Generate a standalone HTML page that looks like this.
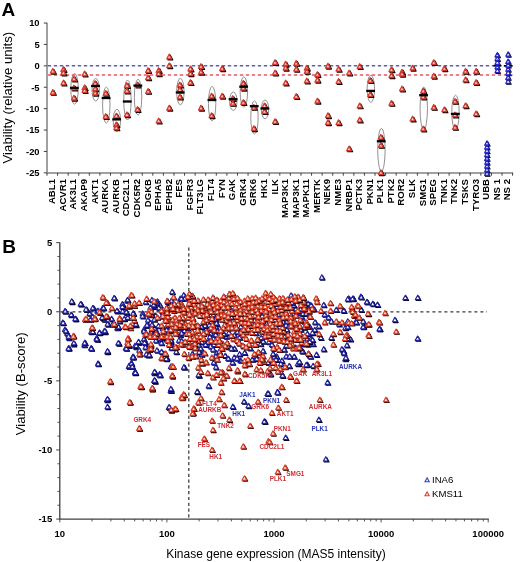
<!DOCTYPE html><html><head><meta charset="utf-8"><style>html,body{margin:0;padding:0;background:#fff;width:520px;height:562px;overflow:hidden}</style></head><body><svg width="520" height="562" viewBox="0 0 520 562" style="display:block;will-change:transform;font-family:'Liberation Sans',sans-serif">
<rect width="520" height="562" fill="#fff"/>
<defs>
<g id="ra"><path d="M1.1,-1.6 l2.4,4.6 h-4.8z" fill="#100000" stroke="#100000" stroke-width="1.3" stroke-linejoin="round"/><path d="M0,-2.6 l2.4,4.6 h-4.8z" fill="#fcd0bc" stroke="#d43a30" stroke-width="1.35" stroke-linejoin="round"/></g>
<g id="r"><path d="M0.9,-1.3 l2.4,4.4 h-4.8z" fill="#3a0000" stroke="#3a0000" stroke-width="1.1" stroke-linejoin="round"/><path d="M0,-2.2 l2.4,4.4 h-4.8z" fill="#ffe2d0" stroke="#da4028" stroke-width="1.15" stroke-linejoin="round"/></g>
<g id="b"><path d="M0.9,-1.3 l2.4,4.4 h-4.8z" fill="#000030" stroke="#000030" stroke-width="1.1" stroke-linejoin="round"/><path d="M0,-2.2 l2.4,4.4 h-4.8z" fill="#fff" stroke="#22229c" stroke-width="1.15" stroke-linejoin="round"/></g>
<g id="ba"><path d="M0.8,-1.4 l2.3,4.3 h-4.6z" fill="#000010" stroke="#000010" stroke-width="1.1" stroke-linejoin="round"/><path d="M0,-2.3 l2.3,4.3 h-4.6z" fill="#fff" stroke="#2626c4" stroke-width="1.25" stroke-linejoin="round"/></g>
</defs>
<text x="1.5" y="15.8" style="font-weight:bold;font-size:19px">A</text>
<text transform="translate(12.4,97.6) rotate(-90)" text-anchor="middle" style="font-size:13.2px">Viability (relative units)</text>
<line x1="47.0" y1="22.74999999999999" x2="47.0" y2="172.9" stroke="#808080" stroke-width="1.5"/>
<line x1="43.8" y1="23.05" x2="47.0" y2="23.05" stroke="#404040" stroke-width="1"/>
<text x="39.6" y="26.35" text-anchor="end" style="font-weight:bold;font-size:9.4px">10</text>
<line x1="43.8" y1="44.45" x2="47.0" y2="44.45" stroke="#404040" stroke-width="1"/>
<text x="39.6" y="47.75" text-anchor="end" style="font-weight:bold;font-size:9.4px">5</text>
<line x1="43.8" y1="65.85" x2="47.0" y2="65.85" stroke="#404040" stroke-width="1"/>
<text x="39.6" y="69.15" text-anchor="end" style="font-weight:bold;font-size:9.4px">0</text>
<line x1="43.8" y1="87.25" x2="47.0" y2="87.25" stroke="#404040" stroke-width="1"/>
<text x="39.6" y="90.55" text-anchor="end" style="font-weight:bold;font-size:9.4px">-5</text>
<line x1="43.8" y1="108.65" x2="47.0" y2="108.65" stroke="#404040" stroke-width="1"/>
<text x="39.6" y="111.95" text-anchor="end" style="font-weight:bold;font-size:9.4px">-10</text>
<line x1="43.8" y1="130.05" x2="47.0" y2="130.05" stroke="#404040" stroke-width="1"/>
<text x="39.6" y="133.35" text-anchor="end" style="font-weight:bold;font-size:9.4px">-15</text>
<line x1="43.8" y1="151.45" x2="47.0" y2="151.45" stroke="#404040" stroke-width="1"/>
<text x="39.6" y="154.75" text-anchor="end" style="font-weight:bold;font-size:9.4px">-20</text>
<line x1="43.8" y1="172.85" x2="47.0" y2="172.85" stroke="#404040" stroke-width="1"/>
<text x="39.6" y="176.15" text-anchor="end" style="font-weight:bold;font-size:9.4px">-25</text>
<line x1="46.3" y1="172.9" x2="513.1" y2="172.9" stroke="#808080" stroke-width="1.5"/>
<line x1="47.00" y1="172.9" x2="47.00" y2="175.70000000000002" stroke="#404040" stroke-width="1"/>
<line x1="57.58" y1="172.9" x2="57.58" y2="175.70000000000002" stroke="#404040" stroke-width="1"/>
<line x1="68.16" y1="172.9" x2="68.16" y2="175.70000000000002" stroke="#404040" stroke-width="1"/>
<line x1="78.75" y1="172.9" x2="78.75" y2="175.70000000000002" stroke="#404040" stroke-width="1"/>
<line x1="89.33" y1="172.9" x2="89.33" y2="175.70000000000002" stroke="#404040" stroke-width="1"/>
<line x1="99.91" y1="172.9" x2="99.91" y2="175.70000000000002" stroke="#404040" stroke-width="1"/>
<line x1="110.49" y1="172.9" x2="110.49" y2="175.70000000000002" stroke="#404040" stroke-width="1"/>
<line x1="121.07" y1="172.9" x2="121.07" y2="175.70000000000002" stroke="#404040" stroke-width="1"/>
<line x1="131.65" y1="172.9" x2="131.65" y2="175.70000000000002" stroke="#404040" stroke-width="1"/>
<line x1="142.24" y1="172.9" x2="142.24" y2="175.70000000000002" stroke="#404040" stroke-width="1"/>
<line x1="152.82" y1="172.9" x2="152.82" y2="175.70000000000002" stroke="#404040" stroke-width="1"/>
<line x1="163.40" y1="172.9" x2="163.40" y2="175.70000000000002" stroke="#404040" stroke-width="1"/>
<line x1="173.98" y1="172.9" x2="173.98" y2="175.70000000000002" stroke="#404040" stroke-width="1"/>
<line x1="184.56" y1="172.9" x2="184.56" y2="175.70000000000002" stroke="#404040" stroke-width="1"/>
<line x1="195.15" y1="172.9" x2="195.15" y2="175.70000000000002" stroke="#404040" stroke-width="1"/>
<line x1="205.73" y1="172.9" x2="205.73" y2="175.70000000000002" stroke="#404040" stroke-width="1"/>
<line x1="216.31" y1="172.9" x2="216.31" y2="175.70000000000002" stroke="#404040" stroke-width="1"/>
<line x1="226.89" y1="172.9" x2="226.89" y2="175.70000000000002" stroke="#404040" stroke-width="1"/>
<line x1="237.47" y1="172.9" x2="237.47" y2="175.70000000000002" stroke="#404040" stroke-width="1"/>
<line x1="248.05" y1="172.9" x2="248.05" y2="175.70000000000002" stroke="#404040" stroke-width="1"/>
<line x1="258.64" y1="172.9" x2="258.64" y2="175.70000000000002" stroke="#404040" stroke-width="1"/>
<line x1="269.22" y1="172.9" x2="269.22" y2="175.70000000000002" stroke="#404040" stroke-width="1"/>
<line x1="279.80" y1="172.9" x2="279.80" y2="175.70000000000002" stroke="#404040" stroke-width="1"/>
<line x1="290.38" y1="172.9" x2="290.38" y2="175.70000000000002" stroke="#404040" stroke-width="1"/>
<line x1="300.96" y1="172.9" x2="300.96" y2="175.70000000000002" stroke="#404040" stroke-width="1"/>
<line x1="311.55" y1="172.9" x2="311.55" y2="175.70000000000002" stroke="#404040" stroke-width="1"/>
<line x1="322.13" y1="172.9" x2="322.13" y2="175.70000000000002" stroke="#404040" stroke-width="1"/>
<line x1="332.71" y1="172.9" x2="332.71" y2="175.70000000000002" stroke="#404040" stroke-width="1"/>
<line x1="343.29" y1="172.9" x2="343.29" y2="175.70000000000002" stroke="#404040" stroke-width="1"/>
<line x1="353.87" y1="172.9" x2="353.87" y2="175.70000000000002" stroke="#404040" stroke-width="1"/>
<line x1="364.45" y1="172.9" x2="364.45" y2="175.70000000000002" stroke="#404040" stroke-width="1"/>
<line x1="375.04" y1="172.9" x2="375.04" y2="175.70000000000002" stroke="#404040" stroke-width="1"/>
<line x1="385.62" y1="172.9" x2="385.62" y2="175.70000000000002" stroke="#404040" stroke-width="1"/>
<line x1="396.20" y1="172.9" x2="396.20" y2="175.70000000000002" stroke="#404040" stroke-width="1"/>
<line x1="406.78" y1="172.9" x2="406.78" y2="175.70000000000002" stroke="#404040" stroke-width="1"/>
<line x1="417.36" y1="172.9" x2="417.36" y2="175.70000000000002" stroke="#404040" stroke-width="1"/>
<line x1="427.95" y1="172.9" x2="427.95" y2="175.70000000000002" stroke="#404040" stroke-width="1"/>
<line x1="438.53" y1="172.9" x2="438.53" y2="175.70000000000002" stroke="#404040" stroke-width="1"/>
<line x1="449.11" y1="172.9" x2="449.11" y2="175.70000000000002" stroke="#404040" stroke-width="1"/>
<line x1="459.69" y1="172.9" x2="459.69" y2="175.70000000000002" stroke="#404040" stroke-width="1"/>
<line x1="470.27" y1="172.9" x2="470.27" y2="175.70000000000002" stroke="#404040" stroke-width="1"/>
<line x1="480.85" y1="172.9" x2="480.85" y2="175.70000000000002" stroke="#404040" stroke-width="1"/>
<line x1="491.44" y1="172.9" x2="491.44" y2="175.70000000000002" stroke="#404040" stroke-width="1"/>
<line x1="502.02" y1="172.9" x2="502.02" y2="175.70000000000002" stroke="#404040" stroke-width="1"/>
<line x1="512.60" y1="172.9" x2="512.60" y2="175.70000000000002" stroke="#404040" stroke-width="1"/>
<text transform="translate(55.29,179.0) rotate(-90)" text-anchor="end" style="font-weight:bold;font-size:9.6px">ABL1</text>
<text transform="translate(65.87,179.0) rotate(-90)" text-anchor="end" style="font-weight:bold;font-size:9.6px">ACVR1</text>
<text transform="translate(76.45,179.0) rotate(-90)" text-anchor="end" style="font-weight:bold;font-size:9.6px">AK3L1</text>
<text transform="translate(87.04,179.0) rotate(-90)" text-anchor="end" style="font-weight:bold;font-size:9.6px">AKAP9</text>
<text transform="translate(97.62,179.0) rotate(-90)" text-anchor="end" style="font-weight:bold;font-size:9.6px">AKT1</text>
<text transform="translate(108.20,179.0) rotate(-90)" text-anchor="end" style="font-weight:bold;font-size:9.6px">AURKA</text>
<text transform="translate(118.78,179.0) rotate(-90)" text-anchor="end" style="font-weight:bold;font-size:9.6px">AURKB</text>
<text transform="translate(129.36,179.0) rotate(-90)" text-anchor="end" style="font-weight:bold;font-size:9.6px">CDC2L1</text>
<text transform="translate(139.95,179.0) rotate(-90)" text-anchor="end" style="font-weight:bold;font-size:9.6px">CDK5R2</text>
<text transform="translate(150.53,179.0) rotate(-90)" text-anchor="end" style="font-weight:bold;font-size:9.6px">DGKB</text>
<text transform="translate(161.11,179.0) rotate(-90)" text-anchor="end" style="font-weight:bold;font-size:9.6px">EPHA5</text>
<text transform="translate(171.69,179.0) rotate(-90)" text-anchor="end" style="font-weight:bold;font-size:9.6px">EPHB2</text>
<text transform="translate(182.27,179.0) rotate(-90)" text-anchor="end" style="font-weight:bold;font-size:9.6px">FES</text>
<text transform="translate(192.85,179.0) rotate(-90)" text-anchor="end" style="font-weight:bold;font-size:9.6px">FGFR3</text>
<text transform="translate(203.44,179.0) rotate(-90)" text-anchor="end" style="font-weight:bold;font-size:9.6px">FLT3LG</text>
<text transform="translate(214.02,179.0) rotate(-90)" text-anchor="end" style="font-weight:bold;font-size:9.6px">FLT4</text>
<text transform="translate(224.60,179.0) rotate(-90)" text-anchor="end" style="font-weight:bold;font-size:9.6px">FYN</text>
<text transform="translate(235.18,179.0) rotate(-90)" text-anchor="end" style="font-weight:bold;font-size:9.6px">GAK</text>
<text transform="translate(245.76,179.0) rotate(-90)" text-anchor="end" style="font-weight:bold;font-size:9.6px">GRK4</text>
<text transform="translate(256.35,179.0) rotate(-90)" text-anchor="end" style="font-weight:bold;font-size:9.6px">GRK6</text>
<text transform="translate(266.93,179.0) rotate(-90)" text-anchor="end" style="font-weight:bold;font-size:9.6px">HK1</text>
<text transform="translate(277.51,179.0) rotate(-90)" text-anchor="end" style="font-weight:bold;font-size:9.6px">ILK</text>
<text transform="translate(288.09,179.0) rotate(-90)" text-anchor="end" style="font-weight:bold;font-size:9.6px">MAP3K1</text>
<text transform="translate(298.67,179.0) rotate(-90)" text-anchor="end" style="font-weight:bold;font-size:9.6px">MAP3K1</text>
<text transform="translate(309.25,179.0) rotate(-90)" text-anchor="end" style="font-weight:bold;font-size:9.6px">MAPK11</text>
<text transform="translate(319.84,179.0) rotate(-90)" text-anchor="end" style="font-weight:bold;font-size:9.6px">MERTK</text>
<text transform="translate(330.42,179.0) rotate(-90)" text-anchor="end" style="font-weight:bold;font-size:9.6px">NEK9</text>
<text transform="translate(341.00,179.0) rotate(-90)" text-anchor="end" style="font-weight:bold;font-size:9.6px">NME3</text>
<text transform="translate(351.58,179.0) rotate(-90)" text-anchor="end" style="font-weight:bold;font-size:9.6px">NRBP1</text>
<text transform="translate(362.16,179.0) rotate(-90)" text-anchor="end" style="font-weight:bold;font-size:9.6px">PCTK3</text>
<text transform="translate(372.75,179.0) rotate(-90)" text-anchor="end" style="font-weight:bold;font-size:9.6px">PKN1</text>
<text transform="translate(383.33,179.0) rotate(-90)" text-anchor="end" style="font-weight:bold;font-size:9.6px">PLK1</text>
<text transform="translate(393.91,179.0) rotate(-90)" text-anchor="end" style="font-weight:bold;font-size:9.6px">PTK2</text>
<text transform="translate(404.49,179.0) rotate(-90)" text-anchor="end" style="font-weight:bold;font-size:9.6px">ROR2</text>
<text transform="translate(415.07,179.0) rotate(-90)" text-anchor="end" style="font-weight:bold;font-size:9.6px">SLK</text>
<text transform="translate(425.65,179.0) rotate(-90)" text-anchor="end" style="font-weight:bold;font-size:9.6px">SMG1</text>
<text transform="translate(436.24,179.0) rotate(-90)" text-anchor="end" style="font-weight:bold;font-size:9.6px">SPEG</text>
<text transform="translate(446.82,179.0) rotate(-90)" text-anchor="end" style="font-weight:bold;font-size:9.6px">TNK1</text>
<text transform="translate(457.40,179.0) rotate(-90)" text-anchor="end" style="font-weight:bold;font-size:9.6px">TNK2</text>
<text transform="translate(467.98,179.0) rotate(-90)" text-anchor="end" style="font-weight:bold;font-size:9.6px">TSKS</text>
<text transform="translate(478.56,179.0) rotate(-90)" text-anchor="end" style="font-weight:bold;font-size:9.6px">TYRO3</text>
<text transform="translate(489.15,179.0) rotate(-90)" text-anchor="end" style="font-weight:bold;font-size:9.6px">UBB</text>
<text transform="translate(499.73,179.0) rotate(-90)" text-anchor="end" style="font-weight:bold;font-size:9.6px">NS 1</text>
<text transform="translate(510.31,179.0) rotate(-90)" text-anchor="end" style="font-weight:bold;font-size:9.6px">NS 2</text>
<line x1="47.8" y1="65.7" x2="512.6" y2="65.7" stroke="#5e5eb6" stroke-width="1.5" stroke-dasharray="3.4,2.6"/>
<line x1="47.8" y1="74.9" x2="512.6" y2="74.9" stroke="#e2586a" stroke-width="1.5" stroke-dasharray="3.4,2.6"/>
<ellipse cx="74.55" cy="88.85" rx="3.7" ry="15.35" fill="none" stroke="#858585" stroke-width="0.9"/>
<ellipse cx="95.72" cy="89.75" rx="3.7" ry="11.25" fill="none" stroke="#858585" stroke-width="0.9"/>
<ellipse cx="106.30" cy="105.15" rx="3.7" ry="18.05" fill="none" stroke="#858585" stroke-width="0.9"/>
<ellipse cx="116.88" cy="120.40" rx="3.7" ry="11.10" fill="none" stroke="#858585" stroke-width="0.9"/>
<ellipse cx="127.46" cy="100.00" rx="3.7" ry="20.00" fill="none" stroke="#858585" stroke-width="0.9"/>
<ellipse cx="138.05" cy="97.20" rx="3.7" ry="18.00" fill="none" stroke="#858585" stroke-width="0.9"/>
<ellipse cx="180.37" cy="91.60" rx="3.7" ry="13.20" fill="none" stroke="#858585" stroke-width="0.9"/>
<ellipse cx="212.12" cy="103.60" rx="3.7" ry="17.20" fill="none" stroke="#858585" stroke-width="0.9"/>
<ellipse cx="233.28" cy="101.20" rx="3.7" ry="9.20" fill="none" stroke="#858585" stroke-width="0.9"/>
<ellipse cx="243.86" cy="92.00" rx="3.7" ry="15.20" fill="none" stroke="#858585" stroke-width="0.9"/>
<ellipse cx="254.45" cy="117.40" rx="3.7" ry="16.60" fill="none" stroke="#858585" stroke-width="0.9"/>
<ellipse cx="265.03" cy="109.40" rx="3.7" ry="9.40" fill="none" stroke="#858585" stroke-width="0.9"/>
<ellipse cx="370.85" cy="88.80" rx="3.7" ry="13.60" fill="none" stroke="#858585" stroke-width="0.9"/>
<ellipse cx="381.43" cy="149.85" rx="3.7" ry="21.35" fill="none" stroke="#858585" stroke-width="0.9"/>
<ellipse cx="423.75" cy="108.40" rx="3.7" ry="21.20" fill="none" stroke="#858585" stroke-width="0.9"/>
<ellipse cx="455.50" cy="112.40" rx="3.7" ry="17.20" fill="none" stroke="#858585" stroke-width="0.9"/>
<use href="#ra" x="52.79" y="71.10"/>
<use href="#ra" x="52.79" y="92.20"/>
<use href="#ra" x="63.37" y="69.40"/>
<use href="#ra" x="63.37" y="72.80"/>
<use href="#ra" x="63.37" y="82.80"/>
<use href="#ra" x="73.95" y="78.80"/>
<use href="#ra" x="73.95" y="87.90"/>
<use href="#ra" x="73.95" y="98.00"/>
<use href="#ra" x="84.54" y="73.80"/>
<use href="#ra" x="84.54" y="87.60"/>
<use href="#ra" x="84.54" y="90.30"/>
<use href="#ra" x="95.12" y="83.40"/>
<use href="#ra" x="95.12" y="88.70"/>
<use href="#ra" x="95.12" y="93.00"/>
<use href="#ra" x="105.70" y="93.20"/>
<use href="#ra" x="105.70" y="116.40"/>
<use href="#ra" x="116.28" y="115.90"/>
<use href="#ra" x="116.28" y="124.60"/>
<use href="#ra" x="116.28" y="127.70"/>
<use href="#ra" x="126.86" y="85.30"/>
<use href="#ra" x="126.86" y="90.90"/>
<use href="#ra" x="126.86" y="114.60"/>
<use href="#ra" x="137.45" y="84.80"/>
<use href="#ra" x="137.45" y="109.40"/>
<use href="#ra" x="148.03" y="70.40"/>
<use href="#ra" x="148.03" y="77.60"/>
<use href="#ra" x="148.03" y="91.20"/>
<use href="#ra" x="158.61" y="70.40"/>
<use href="#ra" x="158.61" y="73.60"/>
<use href="#ra" x="158.61" y="120.80"/>
<use href="#ra" x="169.19" y="56.80"/>
<use href="#ra" x="169.19" y="65.60"/>
<use href="#ra" x="169.19" y="108.00"/>
<use href="#ra" x="179.77" y="84.80"/>
<use href="#ra" x="179.77" y="89.60"/>
<use href="#ra" x="179.77" y="96.80"/>
<use href="#ra" x="190.35" y="68.80"/>
<use href="#ra" x="190.35" y="73.60"/>
<use href="#ra" x="190.35" y="82.40"/>
<use href="#ra" x="200.94" y="66.40"/>
<use href="#ra" x="200.94" y="72.00"/>
<use href="#ra" x="200.94" y="108.00"/>
<use href="#ra" x="211.52" y="96.00"/>
<use href="#ra" x="211.52" y="115.50"/>
<use href="#ra" x="222.10" y="68.50"/>
<use href="#ra" x="222.10" y="96.00"/>
<use href="#ra" x="232.68" y="98.40"/>
<use href="#ra" x="232.68" y="103.20"/>
<use href="#ra" x="243.26" y="83.20"/>
<use href="#ra" x="243.26" y="88.00"/>
<use href="#ra" x="243.26" y="102.40"/>
<use href="#ra" x="253.85" y="107.20"/>
<use href="#ra" x="253.85" y="128.50"/>
<use href="#ra" x="264.43" y="105.70"/>
<use href="#ra" x="264.43" y="111.30"/>
<use href="#ra" x="275.01" y="62.40"/>
<use href="#ra" x="275.01" y="72.80"/>
<use href="#ra" x="275.01" y="121.40"/>
<use href="#ra" x="285.59" y="64.00"/>
<use href="#ra" x="285.59" y="68.00"/>
<use href="#ra" x="285.59" y="82.90"/>
<use href="#ra" x="296.17" y="63.20"/>
<use href="#ra" x="296.17" y="69.10"/>
<use href="#ra" x="296.17" y="96.30"/>
<use href="#ra" x="306.75" y="68.00"/>
<use href="#ra" x="306.75" y="71.20"/>
<use href="#ra" x="306.75" y="80.80"/>
<use href="#ra" x="317.34" y="74.40"/>
<use href="#ra" x="317.34" y="80.00"/>
<use href="#ra" x="317.34" y="101.00"/>
<use href="#ra" x="327.92" y="66.00"/>
<use href="#ra" x="327.92" y="115.50"/>
<use href="#ra" x="327.92" y="122.50"/>
<use href="#ra" x="338.50" y="69.10"/>
<use href="#ra" x="338.50" y="81.30"/>
<use href="#ra" x="338.50" y="122.50"/>
<use href="#ra" x="349.08" y="72.80"/>
<use href="#ra" x="349.08" y="148.70"/>
<use href="#ra" x="359.66" y="66.40"/>
<use href="#ra" x="359.66" y="105.70"/>
<use href="#ra" x="359.66" y="119.90"/>
<use href="#ra" x="370.25" y="80.30"/>
<use href="#ra" x="370.25" y="94.40"/>
<use href="#ra" x="380.83" y="137.10"/>
<use href="#ra" x="380.83" y="145.20"/>
<use href="#ra" x="380.83" y="172.50"/>
<use href="#ra" x="391.41" y="69.60"/>
<use href="#ra" x="391.41" y="75.50"/>
<use href="#ra" x="391.41" y="103.20"/>
<use href="#ra" x="401.99" y="72.00"/>
<use href="#ra" x="401.99" y="74.00"/>
<use href="#ra" x="401.99" y="88.80"/>
<use href="#ra" x="412.57" y="68.00"/>
<use href="#ra" x="412.57" y="118.90"/>
<use href="#ra" x="423.15" y="90.90"/>
<use href="#ra" x="423.15" y="96.80"/>
<use href="#ra" x="423.15" y="128.80"/>
<use href="#ra" x="433.74" y="62.40"/>
<use href="#ra" x="433.74" y="76.00"/>
<use href="#ra" x="433.74" y="107.20"/>
<use href="#ra" x="444.32" y="68.50"/>
<use href="#ra" x="444.32" y="109.60"/>
<use href="#ra" x="454.90" y="101.20"/>
<use href="#ra" x="454.90" y="114.80"/>
<use href="#ra" x="454.90" y="127.20"/>
<use href="#ra" x="465.48" y="71.20"/>
<use href="#ra" x="465.48" y="79.70"/>
<use href="#ra" x="465.48" y="105.60"/>
<use href="#ra" x="476.06" y="71.20"/>
<use href="#ra" x="476.06" y="82.40"/>
<use href="#ra" x="476.06" y="113.60"/>
<rect x="69.95" y="86.75" width="8.8" height="2.3" fill="#000"/>
<rect x="91.12" y="84.85" width="8.8" height="2.3" fill="#000"/>
<rect x="101.70" y="96.85" width="8.8" height="2.3" fill="#000"/>
<rect x="112.28" y="118.25" width="8.8" height="2.3" fill="#000"/>
<rect x="122.86" y="100.35" width="8.8" height="2.3" fill="#000"/>
<rect x="133.45" y="84.45" width="8.8" height="2.3" fill="#000"/>
<rect x="175.77" y="91.35" width="8.8" height="2.3" fill="#000"/>
<rect x="207.52" y="98.85" width="8.8" height="2.3" fill="#000"/>
<rect x="228.68" y="98.05" width="8.8" height="2.3" fill="#000"/>
<rect x="239.26" y="85.55" width="8.8" height="2.3" fill="#000"/>
<rect x="249.85" y="105.05" width="8.8" height="2.3" fill="#000"/>
<rect x="260.43" y="107.35" width="8.8" height="2.3" fill="#000"/>
<rect x="366.25" y="89.75" width="8.8" height="2.3" fill="#000"/>
<rect x="376.83" y="140.15" width="8.8" height="2.3" fill="#000"/>
<rect x="419.15" y="94.05" width="8.8" height="2.3" fill="#000"/>
<rect x="450.90" y="112.75" width="8.8" height="2.3" fill="#000"/>
<use href="#ba" x="486.95" y="143.20"/>
<use href="#ba" x="486.95" y="147.00"/>
<use href="#ba" x="486.95" y="150.80"/>
<use href="#ba" x="486.95" y="154.60"/>
<use href="#ba" x="486.95" y="158.40"/>
<use href="#ba" x="486.95" y="162.20"/>
<use href="#ba" x="486.95" y="166.00"/>
<use href="#ba" x="486.95" y="169.80"/>
<use href="#ba" x="486.95" y="173.40"/>
<rect x="493.43" y="64.9" width="8" height="1.6" fill="#000"/>
<use href="#ba" x="497.33" y="54.90"/>
<use href="#ba" x="497.33" y="58.60"/>
<use href="#ba" x="497.33" y="62.30"/>
<use href="#ba" x="497.33" y="66.90"/>
<use href="#ba" x="497.33" y="70.60"/>
<rect x="503.91" y="65.0" width="8.6" height="1.6" fill="#000"/>
<use href="#ba" x="508.11" y="54.20"/>
<use href="#ba" x="508.11" y="61.40"/>
<use href="#ba" x="508.11" y="65.00"/>
<use href="#ba" x="508.11" y="69.20"/>
<use href="#ba" x="508.11" y="72.80"/>
<use href="#ba" x="508.11" y="77.40"/>
<use href="#ba" x="508.11" y="81.30"/>
<text x="2.2" y="252.6" style="font-weight:bold;font-size:19px">B</text>
<text transform="translate(24.8,383.8) rotate(-90)" text-anchor="middle" style="font-size:13.2px">Viability (B-score)</text>
<line x1="59.8" y1="242.25" x2="59.8" y2="519.2" stroke="#404040" stroke-width="1.3"/>
<line x1="56.2" y1="242.65" x2="59.8" y2="242.65" stroke="#404040" stroke-width="1"/>
<text x="52.2" y="246.05" text-anchor="end" style="font-weight:bold;font-size:9.5px">5</text>
<line x1="57.4" y1="256.47" x2="59.8" y2="256.47" stroke="#404040" stroke-width="0.9"/>
<line x1="57.4" y1="270.29" x2="59.8" y2="270.29" stroke="#404040" stroke-width="0.9"/>
<line x1="57.4" y1="284.11" x2="59.8" y2="284.11" stroke="#404040" stroke-width="0.9"/>
<line x1="57.4" y1="297.93" x2="59.8" y2="297.93" stroke="#404040" stroke-width="0.9"/>
<line x1="56.2" y1="311.75" x2="59.8" y2="311.75" stroke="#404040" stroke-width="1"/>
<text x="52.2" y="315.15" text-anchor="end" style="font-weight:bold;font-size:9.5px">0</text>
<line x1="57.4" y1="325.57" x2="59.8" y2="325.57" stroke="#404040" stroke-width="0.9"/>
<line x1="57.4" y1="339.39" x2="59.8" y2="339.39" stroke="#404040" stroke-width="0.9"/>
<line x1="57.4" y1="353.21" x2="59.8" y2="353.21" stroke="#404040" stroke-width="0.9"/>
<line x1="57.4" y1="367.03" x2="59.8" y2="367.03" stroke="#404040" stroke-width="0.9"/>
<line x1="56.2" y1="380.85" x2="59.8" y2="380.85" stroke="#404040" stroke-width="1"/>
<text x="52.2" y="384.25" text-anchor="end" style="font-weight:bold;font-size:9.5px">-5</text>
<line x1="57.4" y1="394.67" x2="59.8" y2="394.67" stroke="#404040" stroke-width="0.9"/>
<line x1="57.4" y1="408.49" x2="59.8" y2="408.49" stroke="#404040" stroke-width="0.9"/>
<line x1="57.4" y1="422.31" x2="59.8" y2="422.31" stroke="#404040" stroke-width="0.9"/>
<line x1="57.4" y1="436.13" x2="59.8" y2="436.13" stroke="#404040" stroke-width="0.9"/>
<line x1="56.2" y1="449.95" x2="59.8" y2="449.95" stroke="#404040" stroke-width="1"/>
<text x="52.2" y="453.35" text-anchor="end" style="font-weight:bold;font-size:9.5px">-10</text>
<line x1="57.4" y1="463.77" x2="59.8" y2="463.77" stroke="#404040" stroke-width="0.9"/>
<line x1="57.4" y1="477.59" x2="59.8" y2="477.59" stroke="#404040" stroke-width="0.9"/>
<line x1="57.4" y1="491.41" x2="59.8" y2="491.41" stroke="#404040" stroke-width="0.9"/>
<line x1="57.4" y1="505.23" x2="59.8" y2="505.23" stroke="#404040" stroke-width="0.9"/>
<line x1="56.2" y1="519.05" x2="59.8" y2="519.05" stroke="#404040" stroke-width="1"/>
<text x="52.2" y="522.45" text-anchor="end" style="font-weight:bold;font-size:9.5px">-15</text>
<line x1="59.199999999999996" y1="519.2" x2="488.80" y2="519.2" stroke="#404040" stroke-width="1.3"/>
<line x1="59.80" y1="519.2" x2="59.80" y2="522.4000000000001" stroke="#404040" stroke-width="0.9"/>
<line x1="92.04" y1="519.2" x2="92.04" y2="521.4000000000001" stroke="#404040" stroke-width="0.9"/>
<line x1="110.90" y1="519.2" x2="110.90" y2="521.4000000000001" stroke="#404040" stroke-width="0.9"/>
<line x1="124.28" y1="519.2" x2="124.28" y2="521.4000000000001" stroke="#404040" stroke-width="0.9"/>
<line x1="134.66" y1="519.2" x2="134.66" y2="521.4000000000001" stroke="#404040" stroke-width="0.9"/>
<line x1="143.14" y1="519.2" x2="143.14" y2="521.4000000000001" stroke="#404040" stroke-width="0.9"/>
<line x1="150.31" y1="519.2" x2="150.31" y2="521.4000000000001" stroke="#404040" stroke-width="0.9"/>
<line x1="156.52" y1="519.2" x2="156.52" y2="521.4000000000001" stroke="#404040" stroke-width="0.9"/>
<line x1="162.00" y1="519.2" x2="162.00" y2="521.4000000000001" stroke="#404040" stroke-width="0.9"/>
<line x1="166.90" y1="519.2" x2="166.90" y2="522.4000000000001" stroke="#404040" stroke-width="0.9"/>
<line x1="199.14" y1="519.2" x2="199.14" y2="521.4000000000001" stroke="#404040" stroke-width="0.9"/>
<line x1="218.00" y1="519.2" x2="218.00" y2="521.4000000000001" stroke="#404040" stroke-width="0.9"/>
<line x1="231.38" y1="519.2" x2="231.38" y2="521.4000000000001" stroke="#404040" stroke-width="0.9"/>
<line x1="241.76" y1="519.2" x2="241.76" y2="521.4000000000001" stroke="#404040" stroke-width="0.9"/>
<line x1="250.24" y1="519.2" x2="250.24" y2="521.4000000000001" stroke="#404040" stroke-width="0.9"/>
<line x1="257.41" y1="519.2" x2="257.41" y2="521.4000000000001" stroke="#404040" stroke-width="0.9"/>
<line x1="263.62" y1="519.2" x2="263.62" y2="521.4000000000001" stroke="#404040" stroke-width="0.9"/>
<line x1="269.10" y1="519.2" x2="269.10" y2="521.4000000000001" stroke="#404040" stroke-width="0.9"/>
<line x1="274.00" y1="519.2" x2="274.00" y2="522.4000000000001" stroke="#404040" stroke-width="0.9"/>
<line x1="306.24" y1="519.2" x2="306.24" y2="521.4000000000001" stroke="#404040" stroke-width="0.9"/>
<line x1="325.10" y1="519.2" x2="325.10" y2="521.4000000000001" stroke="#404040" stroke-width="0.9"/>
<line x1="338.48" y1="519.2" x2="338.48" y2="521.4000000000001" stroke="#404040" stroke-width="0.9"/>
<line x1="348.86" y1="519.2" x2="348.86" y2="521.4000000000001" stroke="#404040" stroke-width="0.9"/>
<line x1="357.34" y1="519.2" x2="357.34" y2="521.4000000000001" stroke="#404040" stroke-width="0.9"/>
<line x1="364.51" y1="519.2" x2="364.51" y2="521.4000000000001" stroke="#404040" stroke-width="0.9"/>
<line x1="370.72" y1="519.2" x2="370.72" y2="521.4000000000001" stroke="#404040" stroke-width="0.9"/>
<line x1="376.20" y1="519.2" x2="376.20" y2="521.4000000000001" stroke="#404040" stroke-width="0.9"/>
<line x1="381.10" y1="519.2" x2="381.10" y2="522.4000000000001" stroke="#404040" stroke-width="0.9"/>
<line x1="413.34" y1="519.2" x2="413.34" y2="521.4000000000001" stroke="#404040" stroke-width="0.9"/>
<line x1="432.20" y1="519.2" x2="432.20" y2="521.4000000000001" stroke="#404040" stroke-width="0.9"/>
<line x1="445.58" y1="519.2" x2="445.58" y2="521.4000000000001" stroke="#404040" stroke-width="0.9"/>
<line x1="455.96" y1="519.2" x2="455.96" y2="521.4000000000001" stroke="#404040" stroke-width="0.9"/>
<line x1="464.44" y1="519.2" x2="464.44" y2="521.4000000000001" stroke="#404040" stroke-width="0.9"/>
<line x1="471.61" y1="519.2" x2="471.61" y2="521.4000000000001" stroke="#404040" stroke-width="0.9"/>
<line x1="477.82" y1="519.2" x2="477.82" y2="521.4000000000001" stroke="#404040" stroke-width="0.9"/>
<line x1="483.30" y1="519.2" x2="483.30" y2="521.4000000000001" stroke="#404040" stroke-width="0.9"/>
<line x1="488.20" y1="519.2" x2="488.20" y2="522.4000000000001" stroke="#404040" stroke-width="0.9"/>
<text x="59.80" y="536.8" text-anchor="middle" style="font-weight:bold;font-size:9.5px">10</text>
<text x="166.90" y="536.8" text-anchor="middle" style="font-weight:bold;font-size:9.5px">100</text>
<text x="274.00" y="536.8" text-anchor="middle" style="font-weight:bold;font-size:9.5px">1000</text>
<text x="381.10" y="536.8" text-anchor="middle" style="font-weight:bold;font-size:9.5px">10000</text>
<text x="488.20" y="536.8" text-anchor="middle" style="font-weight:bold;font-size:9.5px">100000</text>
<text x="166.2" y="558" style="font-size:12px">Kinase gene expression (MAS5 intensity)</text>
<line x1="60.4" y1="311.9" x2="487" y2="311.9" stroke="#383838" stroke-width="1.2" stroke-dasharray="3,3"/>
<line x1="188.8" y1="247.5" x2="188.8" y2="519.2" stroke="#404040" stroke-width="1.3" stroke-dasharray="3.2,2.6"/>
<use href="#b" x="71.8" y="301.5"/>
<use href="#b" x="81.1" y="303.8"/>
<use href="#b" x="64.9" y="310.8"/>
<use href="#b" x="71.1" y="314.6"/>
<use href="#b" x="75.7" y="318.5"/>
<use href="#b" x="86.5" y="309.2"/>
<use href="#b" x="93.4" y="307.7"/>
<use href="#b" x="89.5" y="313.1"/>
<use href="#b" x="97.2" y="310.8"/>
<use href="#b" x="102.6" y="307.7"/>
<use href="#b" x="114.2" y="297.7"/>
<use href="#b" x="127.2" y="300.0"/>
<use href="#b" x="122.6" y="304.6"/>
<use href="#b" x="117.2" y="310.8"/>
<use href="#b" x="122.6" y="310.8"/>
<use href="#b" x="126.5" y="312.3"/>
<use href="#b" x="133.4" y="313.1"/>
<use href="#b" x="92.6" y="316.2"/>
<use href="#b" x="90.3" y="319.2"/>
<use href="#b" x="102.6" y="316.9"/>
<use href="#b" x="104.2" y="319.2"/>
<use href="#b" x="124.2" y="318.5"/>
<use href="#b" x="119.5" y="320.8"/>
<use href="#b" x="62.6" y="322.3"/>
<use href="#b" x="108.0" y="323.8"/>
<use href="#b" x="112.6" y="323.8"/>
<use href="#b" x="117.2" y="327.7"/>
<use href="#b" x="135.7" y="324.6"/>
<use href="#b" x="64.9" y="329.2"/>
<use href="#b" x="91.1" y="331.5"/>
<use href="#b" x="99.5" y="332.3"/>
<use href="#b" x="104.2" y="330.8"/>
<use href="#b" x="67.2" y="333.1"/>
<use href="#b" x="68.8" y="337.7"/>
<use href="#b" x="96.5" y="337.7"/>
<use href="#b" x="73.4" y="343.8"/>
<use href="#b" x="68.8" y="347.7"/>
<use href="#b" x="84.9" y="342.3"/>
<use href="#b" x="84.2" y="344.6"/>
<use href="#b" x="91.1" y="347.7"/>
<use href="#b" x="97.2" y="339.2"/>
<use href="#b" x="104.9" y="331.5"/>
<use href="#b" x="107.2" y="351.5"/>
<use href="#b" x="98.0" y="363.1"/>
<use href="#b" x="118.8" y="343.1"/>
<use href="#b" x="128.8" y="345.4"/>
<use href="#b" x="125.7" y="347.7"/>
<use href="#b" x="134.9" y="345.4"/>
<use href="#b" x="132.6" y="356.9"/>
<use href="#b" x="131.1" y="363.1"/>
<use href="#b" x="128.8" y="366.2"/>
<use href="#b" x="134.9" y="371.5"/>
<use href="#b" x="154.9" y="381.2"/>
<use href="#b" x="170.6" y="390.4"/>
<use href="#b" x="106.9" y="399.6"/>
<use href="#b" x="107.4" y="406.5"/>
<use href="#b" x="168.8" y="407.2"/>
<use href="#b" x="172.1" y="291.5"/>
<use href="#b" x="183.7" y="294.8"/>
<use href="#b" x="114.2" y="297.7"/>
<use href="#b" x="71.7" y="301.0"/>
<use href="#b" x="80.6" y="303.7"/>
<use href="#b" x="127.7" y="299.6"/>
<use href="#b" x="151.9" y="299.6"/>
<use href="#b" x="157.3" y="301.0"/>
<use href="#b" x="168.1" y="302.3"/>
<use href="#b" x="180.2" y="298.3"/>
<use href="#b" x="122.3" y="303.7"/>
<use href="#b" x="65.2" y="310.9"/>
<use href="#b" x="86.0" y="309.0"/>
<use href="#b" x="92.7" y="307.7"/>
<use href="#b" x="98.1" y="310.4"/>
<use href="#b" x="103.5" y="307.7"/>
<use href="#b" x="116.9" y="310.4"/>
<use href="#b" x="122.3" y="306.3"/>
<use href="#b" x="126.3" y="311.7"/>
<use href="#b" x="133.1" y="313.1"/>
<use href="#b" x="142.5" y="313.1"/>
<use href="#b" x="154.6" y="306.3"/>
<use href="#b" x="160.0" y="305.0"/>
<use href="#b" x="191.0" y="310.4"/>
<use href="#b" x="71.2" y="314.4"/>
<use href="#b" x="75.2" y="318.5"/>
<use href="#b" x="102.1" y="317.1"/>
<use href="#b" x="111.5" y="318.5"/>
<use href="#b" x="127.7" y="317.1"/>
<use href="#b" x="142.5" y="315.8"/>
<use href="#b" x="147.9" y="319.8"/>
<use href="#b" x="165.4" y="319.8"/>
<use href="#b" x="63.1" y="322.5"/>
<use href="#b" x="107.5" y="323.8"/>
<use href="#b" x="118.3" y="326.5"/>
<use href="#b" x="135.8" y="323.8"/>
<use href="#b" x="146.5" y="325.2"/>
<use href="#b" x="150.6" y="322.5"/>
<use href="#b" x="154.6" y="327.9"/>
<use href="#b" x="173.5" y="322.5"/>
<use href="#b" x="65.8" y="330.6"/>
<use href="#b" x="92.7" y="331.4"/>
<use href="#b" x="99.4" y="332.5"/>
<use href="#b" x="104.8" y="330.6"/>
<use href="#b" x="68.5" y="336.0"/>
<use href="#b" x="151.9" y="330.6"/>
<use href="#b" x="170.8" y="330.6"/>
<use href="#b" x="180.2" y="334.6"/>
<use href="#b" x="143.9" y="329.2"/>
<use href="#b" x="68.5" y="348.1"/>
<use href="#b" x="73.8" y="342.7"/>
<use href="#b" x="84.6" y="342.7"/>
<use href="#b" x="91.3" y="348.1"/>
<use href="#b" x="96.7" y="338.7"/>
<use href="#b" x="118.3" y="342.7"/>
<use href="#b" x="126.3" y="348.1"/>
<use href="#b" x="138.5" y="342.2"/>
<use href="#b" x="143.9" y="338.7"/>
<use href="#b" x="146.5" y="344.0"/>
<use href="#b" x="156.0" y="340.0"/>
<use href="#b" x="161.4" y="342.7"/>
<use href="#b" x="166.7" y="339.5"/>
<use href="#b" x="170.8" y="341.4"/>
<use href="#b" x="178.9" y="340.0"/>
<use href="#b" x="135.8" y="346.7"/>
<use href="#b" x="107.5" y="350.8"/>
<use href="#b" x="133.1" y="356.2"/>
<use href="#b" x="147.9" y="354.8"/>
<use href="#b" x="164.0" y="353.5"/>
<use href="#b" x="166.7" y="357.5"/>
<use href="#b" x="192.3" y="353.5"/>
<use href="#b" x="98.1" y="363.7"/>
<use href="#b" x="129.0" y="365.6"/>
<use href="#b" x="184.2" y="366.9"/>
<use href="#b" x="135.2" y="372.3"/>
<use href="#b" x="154.6" y="371.8"/>
<use href="#b" x="159.5" y="373.7"/>
<use href="#b" x="154.6" y="380.4"/>
<use href="#b" x="170.8" y="389.8"/>
<use href="#b" x="107.5" y="398.7"/>
<use href="#b" x="348.7" y="298.1"/>
<use href="#b" x="353.2" y="298.1"/>
<use href="#b" x="360.8" y="296.3"/>
<use href="#b" x="367.0" y="301.5"/>
<use href="#b" x="372.9" y="303.3"/>
<use href="#b" x="377.4" y="304.3"/>
<use href="#b" x="405.3" y="297.4"/>
<use href="#b" x="417.7" y="297.4"/>
<use href="#b" x="394.9" y="319.5"/>
<use href="#b" x="379.8" y="328.5"/>
<use href="#b" x="417.6" y="338.2"/>
<use href="#b" x="363.5" y="325.8"/>
<use href="#b" x="355.6" y="321.6"/>
<use href="#b" x="343.5" y="310.2"/>
<use href="#b" x="345.2" y="327.5"/>
<use href="#b" x="350.4" y="338.9"/>
<use href="#b" x="346.9" y="344.8"/>
<use href="#b" x="343.5" y="350.7"/>
<use href="#b" x="345.2" y="358.7"/>
<use href="#b" x="321.8" y="277.0"/>
<use href="#b" x="291.0" y="295.0"/>
<use href="#b" x="347.7" y="298.8"/>
<use href="#b" x="352.5" y="298.5"/>
<use href="#b" x="361.2" y="296.9"/>
<use href="#b" x="366.9" y="301.7"/>
<use href="#b" x="372.7" y="303.7"/>
<use href="#b" x="310.2" y="304.6"/>
<use href="#b" x="323.7" y="304.6"/>
<use href="#b" x="361.2" y="309.4"/>
<use href="#b" x="336.2" y="309.4"/>
<use href="#b" x="343.8" y="310.4"/>
<use href="#b" x="301.5" y="316.2"/>
<use href="#b" x="324.6" y="314.2"/>
<use href="#b" x="328.5" y="317.1"/>
<use href="#b" x="315.0" y="321.9"/>
<use href="#b" x="331.3" y="321.0"/>
<use href="#b" x="339.0" y="323.8"/>
<use href="#b" x="347.7" y="321.0"/>
<use href="#b" x="356.3" y="321.9"/>
<use href="#b" x="363.1" y="321.0"/>
<use href="#b" x="291.9" y="325.8"/>
<use href="#b" x="318.8" y="325.8"/>
<use href="#b" x="347.7" y="326.7"/>
<use href="#b" x="363.1" y="326.7"/>
<use href="#b" x="379.4" y="328.7"/>
<use href="#b" x="307.3" y="333.5"/>
<use href="#b" x="320.8" y="337.3"/>
<use href="#b" x="331.3" y="337.3"/>
<use href="#b" x="347.7" y="338.3"/>
<use href="#b" x="311.2" y="338.3"/>
<use href="#b" x="302.5" y="350.8"/>
<use href="#b" x="323.7" y="348.8"/>
<use href="#b" x="309.2" y="354.6"/>
<use href="#b" x="341.9" y="348.8"/>
<use href="#b" x="343.8" y="352.7"/>
<use href="#b" x="345.8" y="357.5"/>
<use href="#b" x="298.7" y="363.3"/>
<use href="#b" x="307.3" y="364.2"/>
<use href="#b" x="199.0" y="375.2"/>
<use href="#b" x="208.6" y="385.6"/>
<use href="#b" x="197.3" y="391.6"/>
<use href="#b" x="232.8" y="406.3"/>
<use href="#b" x="244.0" y="401.2"/>
<use href="#b" x="248.4" y="405.5"/>
<use href="#b" x="264.8" y="421.1"/>
<use href="#b" x="267.4" y="393.4"/>
<use href="#b" x="270.4" y="373.5"/>
<use href="#b" x="282.5" y="375.2"/>
<use href="#b" x="327.5" y="382.1"/>
<use href="#b" x="267.8" y="393.4"/>
<use href="#b" x="277.3" y="391.6"/>
<use href="#b" x="264.3" y="421.1"/>
<use href="#b" x="318.8" y="419.3"/>
<use href="#b" x="285.6" y="437.3"/>
<use href="#b" x="325.8" y="458.9"/>
<use href="#b" x="134.9" y="372.6"/>
<use href="#b" x="154.1" y="372.6"/>
<use href="#b" x="159.5" y="374.7"/>
<use href="#b" x="154.1" y="380.2"/>
<use href="#b" x="170.8" y="390.3"/>
<use href="#b" x="169.1" y="406.7"/>
<use href="#b" x="197.2" y="391.3"/>
<use href="#b" x="234.2" y="357.1"/>
<use href="#b" x="270.2" y="373.6"/>
<use href="#b" x="252.2" y="359.2"/>
<use href="#b" x="256.4" y="357.1"/>
<use href="#b" x="268.1" y="362.4"/>
<use href="#b" x="276.5" y="356.1"/>
<use href="#b" x="281.8" y="360.3"/>
<use href="#b" x="280.8" y="363.5"/>
<use href="#b" x="289.2" y="365.6"/>
<use href="#b" x="297.7" y="363.5"/>
<use href="#b" x="306.2" y="364.5"/>
<use href="#b" x="310.4" y="356.1"/>
<use href="#b" x="282.5" y="375.1"/>
<use href="#b" x="277.6" y="392.0"/>
<use href="#b" x="268.1" y="393.1"/>
<use href="#b" x="143.8" y="330.8"/>
<use href="#b" x="151.5" y="331.5"/>
<use href="#b" x="156.9" y="332.3"/>
<use href="#b" x="166.9" y="332.3"/>
<use href="#b" x="138.5" y="341.5"/>
<use href="#b" x="136.2" y="345.4"/>
<use href="#b" x="144.6" y="342.3"/>
<use href="#b" x="145.4" y="346.9"/>
<use href="#b" x="139.2" y="350.0"/>
<use href="#b" x="146.2" y="353.8"/>
<use href="#b" x="149.2" y="354.6"/>
<use href="#b" x="156.9" y="350.0"/>
<use href="#b" x="161.5" y="351.5"/>
<use href="#b" x="166.2" y="358.5"/>
<use href="#b" x="170.8" y="340.0"/>
<use href="#b" x="171.5" y="345.4"/>
<use href="#b" x="171.5" y="347.7"/>
<use href="#b" x="176.2" y="351.5"/>
<use href="#b" x="133.1" y="356.9"/>
<use href="#b" x="131.5" y="363.1"/>
<use href="#b" x="132.3" y="366.2"/>
<use href="#b" x="135.4" y="372.3"/>
<use href="#b" x="154.6" y="371.5"/>
<use href="#b" x="160.0" y="374.6"/>
<use href="#b" x="154.6" y="380.0"/>
<use href="#b" x="170.8" y="366.2"/>
<use href="#b" x="183.8" y="366.9"/>
<use href="#b" x="170.8" y="388.5"/>
<use href="#b" x="198.5" y="374.6"/>
<use href="#b" x="212.4" y="301.1"/>
<use href="#b" x="207.2" y="303.8"/>
<use href="#b" x="212.9" y="297.3"/>
<use href="#b" x="209.4" y="306.6"/>
<use href="#b" x="216.9" y="299.5"/>
<use href="#b" x="217.5" y="303.2"/>
<use href="#b" x="203.4" y="315.7"/>
<use href="#b" x="204.3" y="307.8"/>
<use href="#b" x="198.3" y="305.0"/>
<use href="#b" x="208.3" y="317.0"/>
<use href="#b" x="195.1" y="307.6"/>
<use href="#b" x="211.4" y="321.5"/>
<use href="#b" x="191.0" y="307.0"/>
<use href="#b" x="201.8" y="305.8"/>
<use href="#b" x="202.1" y="310.2"/>
<use href="#b" x="203.5" y="321.4"/>
<use href="#b" x="221.5" y="304.5"/>
<use href="#b" x="213.3" y="314.5"/>
<use href="#b" x="223.7" y="296.4"/>
<use href="#b" x="194.0" y="300.1"/>
<use href="#b" x="191.1" y="311.0"/>
<use href="#b" x="184.8" y="298.2"/>
<use href="#b" x="228.7" y="297.7"/>
<use href="#b" x="192.3" y="295.5"/>
<use href="#b" x="180.9" y="305.5"/>
<use href="#b" x="229.4" y="293.6"/>
<use href="#b" x="195.0" y="312.9"/>
<use href="#b" x="183.7" y="311.9"/>
<use href="#b" x="226.1" y="320.2"/>
<use href="#b" x="224.6" y="324.8"/>
<use href="#b" x="212.0" y="318.3"/>
<use href="#b" x="215.7" y="319.2"/>
<use href="#b" x="217.9" y="316.5"/>
<use href="#b" x="181.3" y="298.2"/>
<use href="#b" x="233.7" y="298.1"/>
<use href="#b" x="178.0" y="303.9"/>
<use href="#b" x="189.4" y="314.0"/>
<use href="#b" x="230.0" y="322.6"/>
<use href="#b" x="192.6" y="318.1"/>
<use href="#b" x="231.4" y="316.8"/>
<use href="#b" x="212.4" y="324.6"/>
<use href="#b" x="219.0" y="327.7"/>
<use href="#b" x="209.1" y="324.9"/>
<use href="#b" x="210.8" y="327.7"/>
<use href="#b" x="215.6" y="326.5"/>
<use href="#b" x="214.2" y="329.8"/>
<use href="#b" x="167.2" y="300.6"/>
<use href="#b" x="172.9" y="308.3"/>
<use href="#b" x="216.4" y="322.8"/>
<use href="#b" x="205.1" y="328.7"/>
<use href="#b" x="166.5" y="307.8"/>
<use href="#b" x="210.6" y="333.1"/>
<use href="#b" x="226.1" y="336.2"/>
<use href="#b" x="171.5" y="300.2"/>
<use href="#b" x="206.5" y="331.6"/>
<use href="#b" x="162.9" y="312.5"/>
<use href="#b" x="205.0" y="325.4"/>
<use href="#b" x="217.5" y="330.9"/>
<use href="#b" x="185.0" y="322.9"/>
<use href="#b" x="234.0" y="322.5"/>
<use href="#b" x="209.8" y="336.6"/>
<use href="#b" x="201.3" y="326.5"/>
<use href="#b" x="187.2" y="327.7"/>
<use href="#b" x="223.8" y="333.7"/>
<use href="#b" x="228.8" y="332.5"/>
<use href="#b" x="167.8" y="316.6"/>
<use href="#b" x="228.7" y="312.0"/>
<use href="#b" x="231.9" y="327.6"/>
<use href="#b" x="162.1" y="315.8"/>
<use href="#b" x="158.8" y="307.6"/>
<use href="#b" x="231.0" y="309.6"/>
<use href="#b" x="215.7" y="334.5"/>
<use href="#b" x="197.7" y="325.2"/>
<use href="#b" x="208.1" y="341.8"/>
<use href="#b" x="238.9" y="306.4"/>
<use href="#b" x="234.4" y="334.9"/>
<use href="#b" x="203.4" y="333.3"/>
<use href="#b" x="156.8" y="302.7"/>
<use href="#b" x="181.2" y="327.9"/>
<use href="#b" x="200.6" y="336.4"/>
<use href="#b" x="192.7" y="326.0"/>
<use href="#b" x="220.7" y="334.9"/>
<use href="#b" x="155.5" y="315.3"/>
<use href="#b" x="210.6" y="346.0"/>
<use href="#b" x="237.2" y="340.3"/>
<use href="#b" x="153.6" y="304.7"/>
<use href="#b" x="192.5" y="336.1"/>
<use href="#b" x="201.9" y="341.8"/>
<use href="#b" x="194.8" y="343.2"/>
<use href="#b" x="239.5" y="337.1"/>
<use href="#b" x="189.0" y="333.4"/>
<use href="#b" x="205.5" y="344.4"/>
<use href="#b" x="222.4" y="343.4"/>
<use href="#b" x="227.1" y="342.8"/>
<use href="#b" x="213.5" y="338.2"/>
<use href="#b" x="184.3" y="326.2"/>
<use href="#b" x="184.3" y="330.4"/>
<use href="#b" x="236.3" y="327.7"/>
<use href="#b" x="234.4" y="348.2"/>
<use href="#b" x="240.7" y="326.6"/>
<use href="#b" x="244.6" y="303.6"/>
<use href="#b" x="166.8" y="325.9"/>
<use href="#b" x="154.3" y="319.0"/>
<use href="#b" x="239.1" y="342.9"/>
<use href="#b" x="246.0" y="331.6"/>
<use href="#b" x="162.7" y="328.1"/>
<use href="#b" x="214.1" y="344.3"/>
<use href="#b" x="152.0" y="314.7"/>
<use href="#b" x="228.2" y="346.6"/>
<use href="#b" x="237.3" y="331.7"/>
<use href="#b" x="245.0" y="322.3"/>
<use href="#b" x="249.0" y="302.7"/>
<use href="#b" x="175.5" y="326.8"/>
<use href="#b" x="232.2" y="313.1"/>
<use href="#b" x="248.8" y="307.7"/>
<use href="#b" x="245.0" y="326.1"/>
<use href="#b" x="166.5" y="329.6"/>
<use href="#b" x="181.6" y="332.9"/>
<use href="#b" x="242.9" y="345.5"/>
<use href="#b" x="198.6" y="344.9"/>
<use href="#b" x="192.4" y="345.4"/>
<use href="#b" x="253.3" y="301.8"/>
<use href="#b" x="254.5" y="320.1"/>
<use href="#b" x="158.4" y="325.6"/>
<use href="#b" x="239.5" y="353.8"/>
<use href="#b" x="257.7" y="305.5"/>
<use href="#b" x="261.9" y="302.2"/>
<use href="#b" x="225.1" y="345.7"/>
<use href="#b" x="256.5" y="301.7"/>
<use href="#b" x="181.7" y="340.7"/>
<use href="#b" x="221.7" y="348.2"/>
<use href="#b" x="248.4" y="328.8"/>
<use href="#b" x="243.5" y="329.2"/>
<use href="#b" x="213.0" y="349.0"/>
<use href="#b" x="216.5" y="352.8"/>
<use href="#b" x="260.9" y="306.1"/>
<use href="#b" x="259.2" y="300.0"/>
<use href="#b" x="200.6" y="348.1"/>
<use href="#b" x="189.9" y="338.3"/>
<use href="#b" x="201.5" y="354.1"/>
<use href="#b" x="195.1" y="347.7"/>
<use href="#b" x="254.6" y="325.2"/>
<use href="#b" x="248.6" y="322.8"/>
<use href="#b" x="213.7" y="362.2"/>
<use href="#b" x="268.8" y="308.5"/>
<use href="#b" x="240.1" y="313.0"/>
<use href="#b" x="240.4" y="360.2"/>
<use href="#b" x="244.6" y="352.4"/>
<use href="#b" x="199.0" y="351.8"/>
<use href="#b" x="201.9" y="362.8"/>
<use href="#b" x="255.2" y="344.1"/>
<use href="#b" x="225.1" y="355.4"/>
<use href="#b" x="150.3" y="307.1"/>
<use href="#b" x="237.0" y="358.0"/>
<use href="#b" x="219.4" y="340.9"/>
<use href="#b" x="170.5" y="336.7"/>
<use href="#b" x="257.5" y="339.1"/>
<use href="#b" x="260.6" y="343.6"/>
<use href="#b" x="151.9" y="324.5"/>
<use href="#b" x="145.6" y="301.7"/>
<use href="#b" x="255.9" y="332.7"/>
<use href="#b" x="258.3" y="351.9"/>
<use href="#b" x="189.0" y="346.2"/>
<use href="#b" x="162.3" y="334.3"/>
<use href="#b" x="261.1" y="337.4"/>
<use href="#b" x="265.8" y="311.1"/>
<use href="#b" x="231.2" y="348.0"/>
<use href="#b" x="232.5" y="362.1"/>
<use href="#b" x="159.5" y="338.1"/>
<use href="#b" x="151.0" y="331.6"/>
<use href="#b" x="228.2" y="358.2"/>
<use href="#b" x="274.7" y="303.2"/>
<use href="#b" x="262.0" y="315.8"/>
<use href="#b" x="215.9" y="355.9"/>
<use href="#b" x="148.5" y="313.6"/>
<use href="#b" x="164.2" y="337.5"/>
<use href="#b" x="185.1" y="341.5"/>
<use href="#b" x="265.9" y="315.1"/>
<use href="#b" x="219.3" y="351.1"/>
<use href="#b" x="266.1" y="322.9"/>
<use href="#b" x="269.3" y="298.3"/>
<use href="#b" x="263.0" y="350.6"/>
<use href="#b" x="250.2" y="347.9"/>
<use href="#b" x="273.4" y="296.8"/>
<use href="#b" x="272.0" y="316.2"/>
<use href="#b" x="278.0" y="310.5"/>
<use href="#b" x="277.0" y="306.6"/>
<use href="#b" x="278.4" y="314.0"/>
<use href="#b" x="147.0" y="324.8"/>
<use href="#b" x="167.8" y="340.3"/>
<use href="#b" x="281.5" y="309.5"/>
<use href="#b" x="265.1" y="335.9"/>
<use href="#b" x="280.4" y="306.2"/>
<use href="#b" x="275.6" y="299.2"/>
<use href="#b" x="263.2" y="341.1"/>
<use href="#b" x="271.1" y="319.3"/>
<use href="#b" x="275.2" y="319.6"/>
<use href="#b" x="215.9" y="366.8"/>
<use href="#b" x="264.1" y="328.3"/>
<use href="#b" x="168.9" y="344.4"/>
<use href="#b" x="279.2" y="302.6"/>
<use href="#b" x="265.4" y="332.3"/>
<use href="#b" x="256.7" y="358.5"/>
<use href="#b" x="276.4" y="322.9"/>
<use href="#b" x="286.0" y="313.1"/>
<use href="#b" x="268.8" y="341.6"/>
<use href="#b" x="271.9" y="344.4"/>
<use href="#b" x="285.1" y="303.4"/>
<use href="#b" x="283.1" y="321.7"/>
<use href="#b" x="268.6" y="335.1"/>
<use href="#b" x="269.6" y="331.9"/>
<use href="#b" x="273.4" y="333.5"/>
<use href="#b" x="145.7" y="333.6"/>
<use href="#b" x="290.8" y="317.1"/>
<use href="#b" x="286.0" y="307.1"/>
<use href="#b" x="273.3" y="329.1"/>
<use href="#b" x="272.3" y="325.8"/>
<use href="#b" x="275.7" y="326.4"/>
<use href="#b" x="277.0" y="346.9"/>
<use href="#b" x="273.4" y="348.0"/>
<use href="#b" x="286.8" y="321.7"/>
<use href="#b" x="279.1" y="339.9"/>
<use href="#b" x="284.2" y="349.2"/>
<use href="#b" x="279.0" y="349.4"/>
<use href="#b" x="280.0" y="322.8"/>
<use href="#b" x="286.0" y="325.0"/>
<use href="#b" x="290.6" y="320.7"/>
<use href="#b" x="283.8" y="340.8"/>
<use href="#b" x="284.8" y="336.3"/>
<use href="#b" x="294.0" y="313.3"/>
<use href="#b" x="290.2" y="307.0"/>
<use href="#b" x="295.9" y="308.5"/>
<use href="#b" x="273.9" y="356.7"/>
<use href="#b" x="286.8" y="329.3"/>
<use href="#b" x="288.0" y="334.7"/>
<use href="#b" x="276.0" y="359.3"/>
<use href="#b" x="293.6" y="304.8"/>
<use href="#b" x="291.3" y="298.7"/>
<use href="#b" x="286.3" y="345.1"/>
<use href="#b" x="286.1" y="355.9"/>
<use href="#b" x="297.2" y="312.1"/>
<use href="#b" x="291.8" y="302.1"/>
<use href="#b" x="294.2" y="334.5"/>
<use href="#b" x="297.2" y="339.4"/>
<use href="#b" x="280.1" y="330.6"/>
<use href="#b" x="296.3" y="328.1"/>
<use href="#b" x="273.0" y="353.6"/>
<use href="#b" x="306.4" y="324.1"/>
<use href="#b" x="300.8" y="304.8"/>
<use href="#b" x="299.8" y="333.3"/>
<use href="#b" x="300.5" y="308.6"/>
<use href="#b" x="302.9" y="313.4"/>
<use href="#b" x="303.9" y="321.0"/>
<use href="#b" x="305.7" y="305.6"/>
<use href="#b" x="295.6" y="347.3"/>
<use href="#b" x="300.8" y="329.2"/>
<use href="#b" x="299.5" y="299.3"/>
<use href="#b" x="294.1" y="356.2"/>
<use href="#b" x="299.4" y="361.6"/>
<use href="#b" x="308.0" y="303.2"/>
<use href="#b" x="289.6" y="356.0"/>
<use href="#b" x="308.8" y="310.8"/>
<use href="#b" x="303.6" y="300.2"/>
<use href="#b" x="300.5" y="339.0"/>
<use href="#b" x="311.1" y="305.1"/>
<use href="#b" x="314.0" y="308.8"/>
<use href="#b" x="309.6" y="315.9"/>
<use href="#b" x="309.4" y="326.2"/>
<use href="#b" x="301.5" y="343.9"/>
<use href="#b" x="302.3" y="350.9"/>
<use href="#b" x="304.3" y="327.2"/>
<use href="#b" x="299.2" y="347.5"/>
<use href="#b" x="307.4" y="344.0"/>
<use href="#b" x="304.1" y="308.4"/>
<use href="#b" x="308.4" y="353.3"/>
<use href="#b" x="313.1" y="365.5"/>
<use href="#b" x="313.0" y="343.6"/>
<use href="#b" x="307.0" y="338.6"/>
<use href="#b" x="312.4" y="339.5"/>
<use href="#b" x="306.2" y="313.2"/>
<use href="#b" x="303.2" y="297.1"/>
<use href="#b" x="314.7" y="329.5"/>
<use href="#b" x="316.4" y="354.3"/>
<use href="#b" x="312.4" y="332.5"/>
<use href="#b" x="309.7" y="341.3"/>
<use href="#r" x="102.6" y="296.9"/>
<use href="#r" x="107.2" y="302.3"/>
<use href="#r" x="131.1" y="294.6"/>
<use href="#r" x="128.8" y="306.2"/>
<use href="#r" x="134.2" y="305.4"/>
<use href="#r" x="111.8" y="307.7"/>
<use href="#r" x="99.5" y="312.3"/>
<use href="#r" x="94.9" y="317.7"/>
<use href="#r" x="84.9" y="319.2"/>
<use href="#r" x="107.2" y="316.2"/>
<use href="#r" x="119.5" y="317.7"/>
<use href="#r" x="134.2" y="320.0"/>
<use href="#r" x="114.2" y="323.8"/>
<use href="#r" x="124.9" y="326.2"/>
<use href="#r" x="130.3" y="327.7"/>
<use href="#r" x="91.8" y="327.7"/>
<use href="#r" x="73.4" y="335.4"/>
<use href="#r" x="128.0" y="337.7"/>
<use href="#r" x="127.2" y="342.3"/>
<use href="#r" x="110.3" y="381.5"/>
<use href="#r" x="141.1" y="386.5"/>
<use href="#r" x="152.2" y="388.1"/>
<use href="#r" x="130.0" y="401.9"/>
<use href="#r" x="171.1" y="410.0"/>
<use href="#r" x="174.5" y="408.8"/>
<use href="#r" x="139.2" y="428.0"/>
<use href="#r" x="131.7" y="294.8"/>
<use href="#r" x="102.9" y="296.9"/>
<use href="#r" x="146.5" y="298.3"/>
<use href="#r" x="173.5" y="296.9"/>
<use href="#r" x="189.6" y="301.0"/>
<use href="#r" x="106.2" y="302.3"/>
<use href="#r" x="134.4" y="302.9"/>
<use href="#r" x="139.0" y="302.3"/>
<use href="#r" x="129.0" y="305.0"/>
<use href="#r" x="174.8" y="305.0"/>
<use href="#r" x="181.5" y="303.7"/>
<use href="#r" x="99.4" y="311.7"/>
<use href="#r" x="149.2" y="310.4"/>
<use href="#r" x="161.4" y="310.4"/>
<use href="#r" x="166.7" y="309.0"/>
<use href="#r" x="173.5" y="310.4"/>
<use href="#r" x="180.2" y="309.0"/>
<use href="#r" x="186.9" y="307.7"/>
<use href="#r" x="86.0" y="318.5"/>
<use href="#r" x="94.8" y="318.5"/>
<use href="#r" x="106.2" y="315.8"/>
<use href="#r" x="119.6" y="318.5"/>
<use href="#r" x="133.1" y="317.1"/>
<use href="#r" x="150.6" y="314.4"/>
<use href="#r" x="157.3" y="317.1"/>
<use href="#r" x="162.7" y="315.8"/>
<use href="#r" x="168.1" y="318.5"/>
<use href="#r" x="174.8" y="317.1"/>
<use href="#r" x="181.5" y="315.8"/>
<use href="#r" x="188.3" y="317.1"/>
<use href="#r" x="114.2" y="323.8"/>
<use href="#r" x="125.5" y="326.5"/>
<use href="#r" x="130.4" y="325.2"/>
<use href="#r" x="161.4" y="325.2"/>
<use href="#r" x="168.1" y="323.8"/>
<use href="#r" x="178.9" y="326.5"/>
<use href="#r" x="185.6" y="323.8"/>
<use href="#r" x="191.0" y="322.5"/>
<use href="#r" x="92.2" y="327.1"/>
<use href="#r" x="73.3" y="336.0"/>
<use href="#r" x="145.2" y="334.6"/>
<use href="#r" x="150.6" y="334.6"/>
<use href="#r" x="156.0" y="333.3"/>
<use href="#r" x="162.7" y="334.6"/>
<use href="#r" x="168.1" y="334.6"/>
<use href="#r" x="176.2" y="331.9"/>
<use href="#r" x="186.9" y="333.3"/>
<use href="#r" x="192.3" y="331.9"/>
<use href="#r" x="127.7" y="338.7"/>
<use href="#r" x="128.2" y="344.0"/>
<use href="#r" x="150.6" y="345.4"/>
<use href="#r" x="149.2" y="349.4"/>
<use href="#r" x="176.2" y="346.7"/>
<use href="#r" x="182.9" y="344.0"/>
<use href="#r" x="188.3" y="341.4"/>
<use href="#r" x="191.0" y="346.7"/>
<use href="#r" x="139.8" y="353.5"/>
<use href="#r" x="161.4" y="357.5"/>
<use href="#r" x="184.2" y="353.5"/>
<use href="#r" x="188.3" y="357.5"/>
<use href="#r" x="172.1" y="365.6"/>
<use href="#r" x="172.1" y="375.0"/>
<use href="#r" x="110.2" y="380.9"/>
<use href="#r" x="141.2" y="386.3"/>
<use href="#r" x="151.9" y="388.5"/>
<use href="#r" x="183.7" y="393.9"/>
<use href="#r" x="181.5" y="396.5"/>
<use href="#r" x="385.0" y="312.6"/>
<use href="#r" x="378.8" y="321.6"/>
<use href="#r" x="396.1" y="331.2"/>
<use href="#r" x="368.4" y="313.7"/>
<use href="#r" x="368.4" y="324.0"/>
<use href="#r" x="368.4" y="334.4"/>
<use href="#r" x="352.1" y="308.5"/>
<use href="#r" x="357.3" y="305.0"/>
<use href="#r" x="353.8" y="315.4"/>
<use href="#r" x="348.7" y="322.3"/>
<use href="#r" x="346.9" y="334.4"/>
<use href="#r" x="385.9" y="399.4"/>
<use href="#r" x="316.0" y="297.9"/>
<use href="#r" x="299.6" y="300.8"/>
<use href="#r" x="303.5" y="301.7"/>
<use href="#r" x="316.9" y="301.7"/>
<use href="#r" x="330.4" y="302.7"/>
<use href="#r" x="340.0" y="305.6"/>
<use href="#r" x="351.5" y="306.5"/>
<use href="#r" x="358.3" y="305.6"/>
<use href="#r" x="297.7" y="310.4"/>
<use href="#r" x="305.4" y="309.4"/>
<use href="#r" x="312.1" y="308.5"/>
<use href="#r" x="320.8" y="310.4"/>
<use href="#r" x="330.4" y="310.4"/>
<use href="#r" x="352.5" y="311.3"/>
<use href="#r" x="355.4" y="314.2"/>
<use href="#r" x="367.9" y="313.3"/>
<use href="#r" x="295.8" y="315.2"/>
<use href="#r" x="310.2" y="316.2"/>
<use href="#r" x="359.2" y="317.1"/>
<use href="#r" x="293.8" y="320.0"/>
<use href="#r" x="300.6" y="320.0"/>
<use href="#r" x="306.3" y="321.9"/>
<use href="#r" x="324.6" y="321.9"/>
<use href="#r" x="336.2" y="321.0"/>
<use href="#r" x="341.9" y="321.9"/>
<use href="#r" x="351.5" y="322.9"/>
<use href="#r" x="368.8" y="323.8"/>
<use href="#r" x="379.4" y="321.9"/>
<use href="#r" x="299.6" y="325.8"/>
<use href="#r" x="307.3" y="325.8"/>
<use href="#r" x="293.8" y="331.5"/>
<use href="#r" x="298.7" y="332.5"/>
<use href="#r" x="318.8" y="333.5"/>
<use href="#r" x="333.3" y="333.5"/>
<use href="#r" x="340.0" y="331.5"/>
<use href="#r" x="345.8" y="335.4"/>
<use href="#r" x="368.8" y="335.4"/>
<use href="#r" x="294.8" y="339.2"/>
<use href="#r" x="301.5" y="342.1"/>
<use href="#r" x="306.3" y="343.1"/>
<use href="#r" x="291.9" y="344.0"/>
<use href="#r" x="292.9" y="347.9"/>
<use href="#r" x="297.7" y="347.9"/>
<use href="#r" x="333.3" y="344.0"/>
<use href="#r" x="344.8" y="338.3"/>
<use href="#r" x="317.9" y="363.3"/>
<use href="#r" x="207.7" y="372.6"/>
<use href="#r" x="212.9" y="376.9"/>
<use href="#r" x="216.3" y="374.3"/>
<use href="#r" x="222.4" y="371.7"/>
<use href="#r" x="226.7" y="375.2"/>
<use href="#r" x="223.3" y="377.8"/>
<use href="#r" x="234.5" y="380.4"/>
<use href="#r" x="239.7" y="380.4"/>
<use href="#r" x="244.9" y="373.5"/>
<use href="#r" x="237.1" y="370.9"/>
<use href="#r" x="220.7" y="382.1"/>
<use href="#r" x="183.5" y="394.2"/>
<use href="#r" x="182.6" y="396.8"/>
<use href="#r" x="221.5" y="391.6"/>
<use href="#r" x="200.8" y="397.7"/>
<use href="#r" x="198.2" y="402.0"/>
<use href="#r" x="219.0" y="398.6"/>
<use href="#r" x="224.1" y="404.6"/>
<use href="#r" x="193.8" y="408.1"/>
<use href="#r" x="193.0" y="412.4"/>
<use href="#r" x="222.4" y="415.0"/>
<use href="#r" x="212.0" y="420.2"/>
<use href="#r" x="229.3" y="419.3"/>
<use href="#r" x="250.1" y="425.4"/>
<use href="#r" x="257.9" y="401.2"/>
<use href="#r" x="290.3" y="376.1"/>
<use href="#r" x="296.3" y="380.4"/>
<use href="#r" x="281.6" y="386.4"/>
<use href="#r" x="286.0" y="399.4"/>
<use href="#r" x="319.7" y="399.4"/>
<use href="#r" x="278.2" y="407.2"/>
<use href="#r" x="271.8" y="412.4"/>
<use href="#r" x="212.9" y="429.5"/>
<use href="#r" x="204.2" y="438.2"/>
<use href="#r" x="212.0" y="449.4"/>
<use href="#r" x="243.2" y="446.0"/>
<use href="#r" x="268.3" y="440.8"/>
<use href="#r" x="244.4" y="478.0"/>
<use href="#r" x="273.0" y="433.0"/>
<use href="#r" x="269.5" y="441.6"/>
<use href="#r" x="285.1" y="467.1"/>
<use href="#r" x="277.7" y="471.6"/>
<use href="#r" x="172.3" y="376.0"/>
<use href="#r" x="140.3" y="386.0"/>
<use href="#r" x="152.0" y="388.8"/>
<use href="#r" x="184.0" y="394.5"/>
<use href="#r" x="181.9" y="397.7"/>
<use href="#r" x="129.6" y="402.0"/>
<use href="#r" x="171.2" y="409.5"/>
<use href="#r" x="175.5" y="408.4"/>
<use href="#r" x="193.6" y="408.4"/>
<use href="#r" x="192.5" y="413.1"/>
<use href="#r" x="139.2" y="428.0"/>
<use href="#r" x="245.9" y="363.5"/>
<use href="#r" x="237.4" y="369.8"/>
<use href="#r" x="244.8" y="373.6"/>
<use href="#r" x="234.2" y="380.4"/>
<use href="#r" x="239.5" y="380.4"/>
<use href="#r" x="256.4" y="368.8"/>
<use href="#r" x="260.7" y="369.8"/>
<use href="#r" x="260.7" y="358.2"/>
<use href="#r" x="263.8" y="361.3"/>
<use href="#r" x="285.0" y="366.6"/>
<use href="#r" x="303.0" y="368.8"/>
<use href="#r" x="316.7" y="363.5"/>
<use href="#r" x="316.7" y="368.8"/>
<use href="#r" x="290.3" y="376.2"/>
<use href="#r" x="296.6" y="380.4"/>
<use href="#r" x="281.8" y="386.7"/>
<use href="#r" x="146.2" y="333.8"/>
<use href="#r" x="150.0" y="336.2"/>
<use href="#r" x="154.6" y="336.2"/>
<use href="#r" x="161.5" y="336.2"/>
<use href="#r" x="166.9" y="336.2"/>
<use href="#r" x="163.1" y="330.8"/>
<use href="#r" x="150.8" y="343.8"/>
<use href="#r" x="150.8" y="348.5"/>
<use href="#r" x="139.2" y="353.8"/>
<use href="#r" x="165.4" y="353.1"/>
<use href="#r" x="161.5" y="357.7"/>
<use href="#r" x="175.4" y="346.9"/>
<use href="#r" x="173.1" y="366.2"/>
<use href="#r" x="172.3" y="375.4"/>
<use href="#r" x="140.8" y="386.2"/>
<use href="#r" x="152.3" y="387.7"/>
<use href="#r" x="208.0" y="299.0"/>
<use href="#r" x="212.4" y="301.1"/>
<use href="#r" x="213.2" y="304.5"/>
<use href="#r" x="207.2" y="303.8"/>
<use href="#r" x="212.9" y="297.3"/>
<use href="#r" x="209.4" y="306.6"/>
<use href="#r" x="216.9" y="299.5"/>
<use href="#r" x="217.5" y="303.2"/>
<use href="#r" x="220.7" y="300.4"/>
<use href="#r" x="206.3" y="310.7"/>
<use href="#r" x="214.7" y="308.7"/>
<use href="#r" x="203.4" y="315.7"/>
<use href="#r" x="211.1" y="311.4"/>
<use href="#r" x="204.3" y="307.8"/>
<use href="#r" x="203.3" y="299.0"/>
<use href="#r" x="198.3" y="305.0"/>
<use href="#r" x="217.2" y="311.4"/>
<use href="#r" x="197.9" y="300.0"/>
<use href="#r" x="193.7" y="304.0"/>
<use href="#r" x="208.3" y="317.0"/>
<use href="#r" x="221.0" y="309.9"/>
<use href="#r" x="195.1" y="307.6"/>
<use href="#r" x="190.9" y="299.1"/>
<use href="#r" x="191.0" y="307.0"/>
<use href="#r" x="201.8" y="305.8"/>
<use href="#r" x="202.1" y="310.2"/>
<use href="#r" x="203.5" y="321.4"/>
<use href="#r" x="221.5" y="304.5"/>
<use href="#r" x="206.7" y="314.0"/>
<use href="#r" x="223.8" y="301.4"/>
<use href="#r" x="217.4" y="306.6"/>
<use href="#r" x="223.7" y="296.4"/>
<use href="#r" x="223.5" y="307.0"/>
<use href="#r" x="194.0" y="300.1"/>
<use href="#r" x="221.2" y="314.7"/>
<use href="#r" x="191.1" y="311.0"/>
<use href="#r" x="188.9" y="303.1"/>
<use href="#r" x="228.7" y="297.7"/>
<use href="#r" x="197.8" y="309.9"/>
<use href="#r" x="227.3" y="303.3"/>
<use href="#r" x="192.3" y="295.5"/>
<use href="#r" x="180.9" y="305.5"/>
<use href="#r" x="187.7" y="309.0"/>
<use href="#r" x="229.4" y="293.6"/>
<use href="#r" x="224.5" y="315.1"/>
<use href="#r" x="231.7" y="303.2"/>
<use href="#r" x="227.9" y="306.8"/>
<use href="#r" x="195.0" y="312.9"/>
<use href="#r" x="183.7" y="311.9"/>
<use href="#r" x="189.2" y="293.4"/>
<use href="#r" x="226.1" y="320.2"/>
<use href="#r" x="224.6" y="324.8"/>
<use href="#r" x="221.8" y="319.2"/>
<use href="#r" x="212.0" y="318.3"/>
<use href="#r" x="183.4" y="308.2"/>
<use href="#r" x="232.7" y="292.8"/>
<use href="#r" x="217.9" y="316.5"/>
<use href="#r" x="233.7" y="298.1"/>
<use href="#r" x="177.3" y="309.6"/>
<use href="#r" x="178.0" y="303.9"/>
<use href="#r" x="189.4" y="314.0"/>
<use href="#r" x="206.3" y="319.7"/>
<use href="#r" x="236.5" y="303.3"/>
<use href="#r" x="230.0" y="322.6"/>
<use href="#r" x="192.6" y="318.1"/>
<use href="#r" x="199.5" y="315.3"/>
<use href="#r" x="212.4" y="324.6"/>
<use href="#r" x="174.3" y="303.8"/>
<use href="#r" x="182.8" y="317.7"/>
<use href="#r" x="171.1" y="305.0"/>
<use href="#r" x="237.4" y="297.7"/>
<use href="#r" x="223.2" y="327.8"/>
<use href="#r" x="220.7" y="330.4"/>
<use href="#r" x="210.8" y="327.7"/>
<use href="#r" x="214.2" y="329.8"/>
<use href="#r" x="167.2" y="300.6"/>
<use href="#r" x="187.8" y="296.4"/>
<use href="#r" x="240.4" y="301.4"/>
<use href="#r" x="228.5" y="327.7"/>
<use href="#r" x="172.9" y="308.3"/>
<use href="#r" x="181.6" y="321.4"/>
<use href="#r" x="166.5" y="307.8"/>
<use href="#r" x="188.8" y="325.0"/>
<use href="#r" x="206.5" y="331.6"/>
<use href="#r" x="172.3" y="319.2"/>
<use href="#r" x="237.0" y="319.8"/>
<use href="#r" x="193.6" y="321.8"/>
<use href="#r" x="176.4" y="319.9"/>
<use href="#r" x="234.0" y="322.5"/>
<use href="#r" x="196.8" y="336.1"/>
<use href="#r" x="167.8" y="316.6"/>
<use href="#r" x="241.3" y="321.9"/>
<use href="#r" x="167.1" y="312.4"/>
<use href="#r" x="228.7" y="312.0"/>
<use href="#r" x="231.9" y="327.6"/>
<use href="#r" x="197.7" y="325.2"/>
<use href="#r" x="238.9" y="306.4"/>
<use href="#r" x="197.7" y="340.4"/>
<use href="#r" x="203.4" y="333.3"/>
<use href="#r" x="197.6" y="330.0"/>
<use href="#r" x="217.6" y="338.1"/>
<use href="#r" x="176.9" y="323.7"/>
<use href="#r" x="211.1" y="340.6"/>
<use href="#r" x="200.6" y="336.4"/>
<use href="#r" x="233.2" y="338.6"/>
<use href="#r" x="192.7" y="326.0"/>
<use href="#r" x="220.7" y="334.9"/>
<use href="#r" x="235.3" y="307.1"/>
<use href="#r" x="237.2" y="340.3"/>
<use href="#r" x="235.8" y="312.5"/>
<use href="#r" x="192.5" y="336.1"/>
<use href="#r" x="244.4" y="300.3"/>
<use href="#r" x="240.5" y="309.8"/>
<use href="#r" x="194.8" y="343.2"/>
<use href="#r" x="237.0" y="316.2"/>
<use href="#r" x="241.2" y="331.9"/>
<use href="#r" x="189.0" y="333.4"/>
<use href="#r" x="165.6" y="320.2"/>
<use href="#r" x="203.5" y="338.1"/>
<use href="#r" x="231.1" y="335.4"/>
<use href="#r" x="222.4" y="343.4"/>
<use href="#r" x="227.1" y="342.8"/>
<use href="#r" x="244.5" y="306.9"/>
<use href="#r" x="184.3" y="326.2"/>
<use href="#r" x="236.3" y="327.7"/>
<use href="#r" x="215.7" y="341.1"/>
<use href="#r" x="154.1" y="300.9"/>
<use href="#r" x="171.6" y="323.7"/>
<use href="#r" x="228.1" y="316.8"/>
<use href="#r" x="244.6" y="303.6"/>
<use href="#r" x="243.3" y="334.6"/>
<use href="#r" x="239.1" y="342.9"/>
<use href="#r" x="246.4" y="310.8"/>
<use href="#r" x="246.0" y="331.6"/>
<use href="#r" x="179.9" y="324.7"/>
<use href="#r" x="245.0" y="322.3"/>
<use href="#r" x="241.4" y="317.8"/>
<use href="#r" x="170.7" y="329.5"/>
<use href="#r" x="249.0" y="302.7"/>
<use href="#r" x="175.5" y="326.8"/>
<use href="#r" x="247.5" y="318.2"/>
<use href="#r" x="232.2" y="313.1"/>
<use href="#r" x="248.8" y="307.7"/>
<use href="#r" x="245.0" y="326.1"/>
<use href="#r" x="247.6" y="298.0"/>
<use href="#r" x="250.9" y="319.7"/>
<use href="#r" x="218.8" y="344.3"/>
<use href="#r" x="252.0" y="297.8"/>
<use href="#r" x="242.9" y="345.5"/>
<use href="#r" x="253.3" y="301.8"/>
<use href="#r" x="244.2" y="313.7"/>
<use href="#r" x="250.0" y="315.8"/>
<use href="#r" x="252.2" y="306.2"/>
<use href="#r" x="255.5" y="297.3"/>
<use href="#r" x="257.7" y="305.5"/>
<use href="#r" x="261.9" y="302.2"/>
<use href="#r" x="225.1" y="345.7"/>
<use href="#r" x="256.5" y="301.7"/>
<use href="#r" x="175.4" y="333.1"/>
<use href="#r" x="267.8" y="301.5"/>
<use href="#r" x="246.1" y="338.3"/>
<use href="#r" x="179.2" y="317.6"/>
<use href="#r" x="221.7" y="348.2"/>
<use href="#r" x="251.2" y="340.0"/>
<use href="#r" x="248.4" y="328.8"/>
<use href="#r" x="243.5" y="329.2"/>
<use href="#r" x="260.9" y="306.1"/>
<use href="#r" x="250.8" y="325.3"/>
<use href="#r" x="259.2" y="300.0"/>
<use href="#r" x="211.8" y="357.1"/>
<use href="#r" x="189.9" y="338.3"/>
<use href="#r" x="195.1" y="347.7"/>
<use href="#r" x="220.3" y="354.3"/>
<use href="#r" x="204.7" y="352.9"/>
<use href="#r" x="254.6" y="325.2"/>
<use href="#r" x="217.1" y="359.1"/>
<use href="#r" x="248.6" y="322.8"/>
<use href="#r" x="252.0" y="332.3"/>
<use href="#r" x="248.9" y="344.0"/>
<use href="#r" x="265.2" y="306.3"/>
<use href="#r" x="268.8" y="308.5"/>
<use href="#r" x="240.1" y="313.0"/>
<use href="#r" x="201.9" y="362.8"/>
<use href="#r" x="255.2" y="344.1"/>
<use href="#r" x="265.5" y="292.6"/>
<use href="#r" x="265.1" y="296.9"/>
<use href="#r" x="255.0" y="315.2"/>
<use href="#r" x="261.1" y="310.2"/>
<use href="#r" x="271.2" y="305.3"/>
<use href="#r" x="252.1" y="311.4"/>
<use href="#r" x="219.4" y="340.9"/>
<use href="#r" x="269.5" y="313.7"/>
<use href="#r" x="256.4" y="309.5"/>
<use href="#r" x="246.0" y="346.9"/>
<use href="#r" x="170.5" y="336.7"/>
<use href="#r" x="257.5" y="339.1"/>
<use href="#r" x="270.6" y="293.5"/>
<use href="#r" x="261.9" y="297.9"/>
<use href="#r" x="254.4" y="329.4"/>
<use href="#r" x="257.7" y="312.5"/>
<use href="#r" x="258.3" y="351.9"/>
<use href="#r" x="261.6" y="331.1"/>
<use href="#r" x="189.0" y="346.2"/>
<use href="#r" x="244.6" y="360.6"/>
<use href="#r" x="151.5" y="328.1"/>
<use href="#r" x="265.8" y="311.1"/>
<use href="#r" x="180.9" y="343.9"/>
<use href="#r" x="257.7" y="320.8"/>
<use href="#r" x="262.5" y="320.7"/>
<use href="#r" x="151.3" y="311.2"/>
<use href="#r" x="192.1" y="356.0"/>
<use href="#r" x="274.7" y="303.2"/>
<use href="#r" x="201.2" y="359.4"/>
<use href="#r" x="206.0" y="361.9"/>
<use href="#r" x="257.7" y="329.0"/>
<use href="#r" x="148.5" y="313.6"/>
<use href="#r" x="185.1" y="341.5"/>
<use href="#r" x="257.6" y="324.1"/>
<use href="#r" x="261.9" y="325.1"/>
<use href="#r" x="265.9" y="315.1"/>
<use href="#r" x="269.3" y="298.3"/>
<use href="#r" x="273.4" y="296.8"/>
<use href="#r" x="272.0" y="316.2"/>
<use href="#r" x="273.1" y="308.8"/>
<use href="#r" x="278.0" y="310.5"/>
<use href="#r" x="266.4" y="318.5"/>
<use href="#r" x="262.9" y="355.8"/>
<use href="#r" x="274.3" y="311.8"/>
<use href="#r" x="254.3" y="353.6"/>
<use href="#r" x="247.8" y="359.0"/>
<use href="#r" x="167.8" y="340.3"/>
<use href="#r" x="272.5" y="300.5"/>
<use href="#r" x="275.4" y="316.2"/>
<use href="#r" x="281.7" y="312.9"/>
<use href="#r" x="258.4" y="316.7"/>
<use href="#r" x="195.7" y="355.8"/>
<use href="#r" x="281.5" y="309.5"/>
<use href="#r" x="265.1" y="335.9"/>
<use href="#r" x="280.4" y="306.2"/>
<use href="#r" x="279.3" y="297.9"/>
<use href="#r" x="275.6" y="299.2"/>
<use href="#r" x="271.1" y="319.3"/>
<use href="#r" x="270.1" y="323.3"/>
<use href="#r" x="244.5" y="364.8"/>
<use href="#r" x="264.1" y="328.3"/>
<use href="#r" x="168.9" y="344.4"/>
<use href="#r" x="249.2" y="363.5"/>
<use href="#r" x="279.2" y="319.7"/>
<use href="#r" x="279.2" y="302.6"/>
<use href="#r" x="283.2" y="317.0"/>
<use href="#r" x="267.1" y="326.2"/>
<use href="#r" x="276.4" y="322.9"/>
<use href="#r" x="261.7" y="359.0"/>
<use href="#r" x="286.0" y="313.1"/>
<use href="#r" x="198.0" y="367.0"/>
<use href="#r" x="220.8" y="371.8"/>
<use href="#r" x="286.7" y="316.6"/>
<use href="#r" x="270.4" y="338.2"/>
<use href="#r" x="285.1" y="303.4"/>
<use href="#r" x="282.9" y="297.7"/>
<use href="#r" x="274.2" y="339.1"/>
<use href="#r" x="259.6" y="362.4"/>
<use href="#r" x="268.6" y="335.1"/>
<use href="#r" x="269.6" y="331.9"/>
<use href="#r" x="273.4" y="333.5"/>
<use href="#r" x="200.7" y="371.3"/>
<use href="#r" x="194.4" y="338.7"/>
<use href="#r" x="290.8" y="317.1"/>
<use href="#r" x="286.0" y="307.1"/>
<use href="#r" x="278.0" y="335.0"/>
<use href="#r" x="270.1" y="328.2"/>
<use href="#r" x="273.3" y="329.1"/>
<use href="#r" x="272.3" y="325.8"/>
<use href="#r" x="283.3" y="331.1"/>
<use href="#r" x="282.4" y="327.3"/>
<use href="#r" x="291.8" y="310.7"/>
<use href="#r" x="277.0" y="346.9"/>
<use href="#r" x="273.4" y="348.0"/>
<use href="#r" x="288.3" y="302.3"/>
<use href="#r" x="279.1" y="339.9"/>
<use href="#r" x="276.9" y="330.1"/>
<use href="#r" x="281.2" y="335.7"/>
<use href="#r" x="279.0" y="349.4"/>
<use href="#r" x="280.0" y="322.8"/>
<use href="#r" x="290.6" y="320.7"/>
<use href="#r" x="283.8" y="340.8"/>
<use href="#r" x="270.4" y="359.0"/>
<use href="#r" x="228.8" y="367.5"/>
<use href="#r" x="290.9" y="325.7"/>
<use href="#r" x="290.2" y="307.0"/>
<use href="#r" x="267.5" y="370.8"/>
<use href="#r" x="269.9" y="367.7"/>
<use href="#r" x="287.3" y="299.0"/>
<use href="#r" x="295.1" y="322.8"/>
<use href="#r" x="273.6" y="362.3"/>
<use href="#r" x="288.0" y="334.7"/>
<use href="#r" x="291.3" y="298.7"/>
<use href="#r" x="287.3" y="341.3"/>
<use href="#r" x="282.4" y="301.7"/>
<use href="#r" x="275.6" y="367.3"/>
<use href="#r" x="280.1" y="368.7"/>
<use href="#r" x="290.4" y="338.0"/>
<use href="#r" x="294.2" y="334.5"/>
<use href="#r" x="298.1" y="296.3"/>
<use href="#r" x="280.1" y="330.6"/>
<use href="#r" x="289.9" y="344.9"/>
<use href="#r" x="296.3" y="328.1"/>
<use href="#r" x="277.7" y="371.1"/>
<use href="#r" x="294.7" y="295.9"/>
<use href="#r" x="300.2" y="319.6"/>
<use href="#r" x="267.2" y="329.7"/>
<use href="#r" x="306.4" y="324.1"/>
<use href="#r" x="300.8" y="304.8"/>
<use href="#r" x="299.8" y="333.3"/>
<use href="#r" x="295.6" y="300.2"/>
<use href="#r" x="299.5" y="299.3"/>
<use href="#r" x="297.4" y="335.6"/>
<use href="#r" x="308.8" y="310.8"/>
<use href="#r" x="300.5" y="339.0"/>
<use href="#r" x="304.6" y="335.7"/>
<use href="#r" x="299.2" y="347.5"/>
<use href="#r" x="304.1" y="308.4"/>
<use href="#r" x="308.4" y="353.3"/>
<use href="#r" x="303.2" y="297.1"/>
<text x="248.0" y="377.8" fill="#d02c34" style="font-weight:bold;font-size:6.4px">CDK5R2</text>
<text x="293.1" y="376.3" fill="#d02c34" style="font-weight:bold;font-size:6.4px">GAK</text>
<text x="311.7" y="376.3" fill="#d02c34" style="font-weight:bold;font-size:6.4px">AK3L1</text>
<text x="339.0" y="368.7" fill="#2434b8" style="font-weight:bold;font-size:6.4px">AURKA</text>
<text x="239.2" y="396.5" fill="#2434b8" style="font-weight:bold;font-size:6.4px">JAK1</text>
<text x="263.0" y="403.1" fill="#2434b8" style="font-weight:bold;font-size:6.4px">PKN1</text>
<text x="202.0" y="405.5" fill="#d02c34" style="font-weight:bold;font-size:6.4px">FLT4</text>
<text x="198.2" y="411.8" fill="#d02c34" style="font-weight:bold;font-size:6.4px">AURKB</text>
<text x="251.3" y="409.2" fill="#d02c34" style="font-weight:bold;font-size:6.4px">GRK6</text>
<text x="232.3" y="415.6" fill="#2434b8" style="font-weight:bold;font-size:6.4px">HK1</text>
<text x="276.8" y="415.6" fill="#d02c34" style="font-weight:bold;font-size:6.4px">AKT1</text>
<text x="308.8" y="408.6" fill="#d02c34" style="font-weight:bold;font-size:6.4px">AURKA</text>
<text x="217.2" y="428.0" fill="#d02c34" style="font-weight:bold;font-size:6.4px">TNK2</text>
<text x="273.7" y="430.6" fill="#d02c34" style="font-weight:bold;font-size:6.4px">PKN1</text>
<text x="311.4" y="430.6" fill="#2434b8" style="font-weight:bold;font-size:6.4px">PLK1</text>
<text x="133.4" y="421.9" fill="#d02c34" style="font-weight:bold;font-size:6.4px">GRK4</text>
<text x="197.7" y="447.4" fill="#d02c34" style="font-weight:bold;font-size:6.4px">FES</text>
<text x="259.5" y="449.1" fill="#d02c34" style="font-weight:bold;font-size:6.4px">CDC2L1</text>
<text x="209.3" y="459.2" fill="#d02c34" style="font-weight:bold;font-size:6.4px">HK1</text>
<text x="286.3" y="476.0" fill="#d02c34" style="font-weight:bold;font-size:6.4px">SMG1</text>
<text x="269.7" y="481.2" fill="#d02c34" style="font-weight:bold;font-size:6.4px">PLK1</text>
<path d="M427.1,477.8 l2.1,3.9 h-4.2z" fill="#fff" stroke="#3040c0" stroke-width="1.1"/>
<path d="M427.1,491.9 l2.1,3.9 h-4.2z" fill="#fff" stroke="#e04030" stroke-width="1.1"/>
<text x="432" y="483" style="font-size:9.6px">INA6</text>
<text x="432" y="497.1" style="font-size:9.6px">KMS11</text>
</svg></body></html>
